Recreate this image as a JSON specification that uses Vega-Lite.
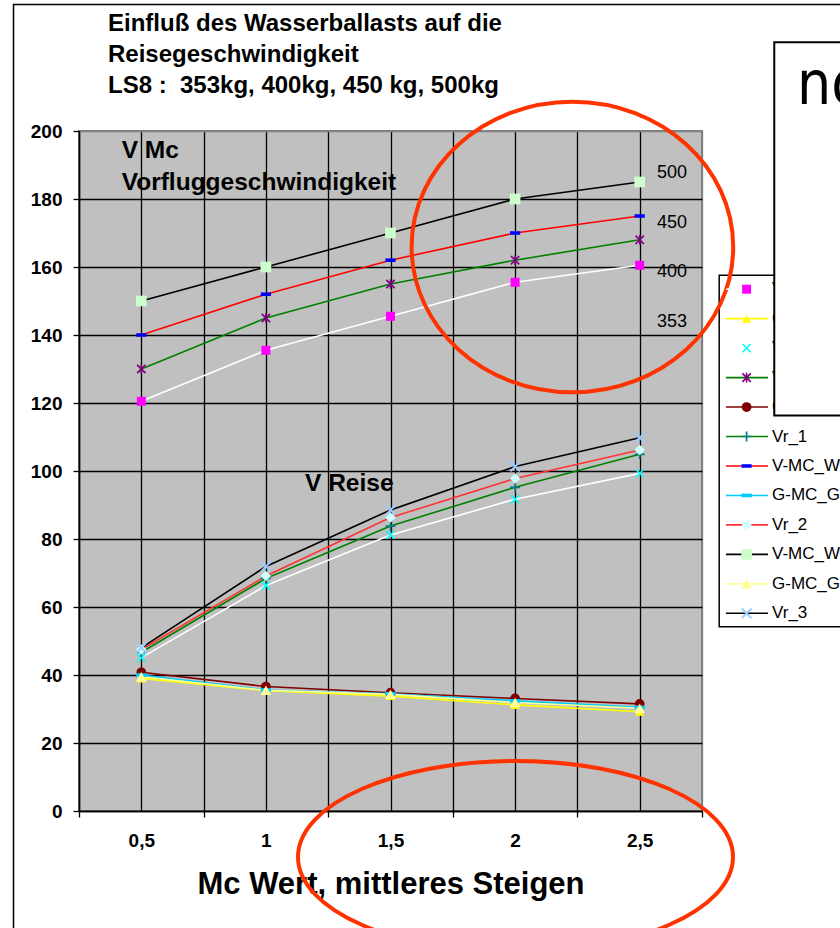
{
"$schema": "https://vega.github.io/schema/vega-lite/v6.json",
"width": 623, "height": 680,
"autosize": "none",
"padding": {"left": 79, "top": 131, "right": 138, "bottom": 117},
"background": "white",
"config": {"view": {"fill": "#C0C0C0", "stroke": "#808080", "strokeWidth": 2}, "legend": {"disable": true}, "font": "Liberation Sans"},
"title": {"text": ["Einfluß des Wasserballasts auf die", "Reisegeschwindigkeit", "LS8 :\u00a0 353kg, 400kg, 450 kg, 500kg"], "anchor": "start", "frame": "group", "font": "Liberation Sans", "fontSize": 24, "fontWeight": "bold", "color": "black", "lineHeight": 31.3, "dx": 29, "offset": -94.5},
"datasets": {
"pts": [
{"s":"V-MC_W0","mc":0.5,"v":120.5},{"s":"V-MC_W0","mc":1,"v":135.5},{"s":"V-MC_W0","mc":1.5,"v":145.5},{"s":"V-MC_W0","mc":2,"v":155.5},{"s":"V-MC_W0","mc":2.5,"v":160.5},
{"s":"G-MC_G0","mc":0.5,"v":39},{"s":"G-MC_G0","mc":1,"v":35.4},{"s":"G-MC_G0","mc":1.5,"v":33.8},{"s":"G-MC_G0","mc":2,"v":31.2},{"s":"G-MC_G0","mc":2.5,"v":29.2},
{"s":"Vr_0","mc":0.5,"v":45.1},{"s":"Vr_0","mc":1,"v":66.3},{"s":"Vr_0","mc":1.5,"v":81.2},{"s":"Vr_0","mc":2,"v":91.7},{"s":"Vr_0","mc":2.5,"v":99.3},
{"s":"V-MC_W1","mc":0.5,"v":130},{"s":"V-MC_W1","mc":1,"v":145},{"s":"V-MC_W1","mc":1.5,"v":155},{"s":"V-MC_W1","mc":2,"v":162},{"s":"V-MC_W1","mc":2.5,"v":168},
{"s":"G-MC_G1","mc":0.5,"v":40.8},{"s":"G-MC_G1","mc":1,"v":36.6},{"s":"G-MC_G1","mc":1.5,"v":34.8},{"s":"G-MC_G1","mc":2,"v":33.1},{"s":"G-MC_G1","mc":2.5,"v":31.5},
{"s":"Vr_1","mc":0.5,"v":46.7},{"s":"Vr_1","mc":1,"v":68.4},{"s":"Vr_1","mc":1.5,"v":83.8},{"s":"Vr_1","mc":2,"v":95.2},{"s":"Vr_1","mc":2.5,"v":104.9},
{"s":"V-MC_W2","mc":0.5,"v":140},{"s":"V-MC_W2","mc":1,"v":152},{"s":"V-MC_W2","mc":1.5,"v":162},{"s":"V-MC_W2","mc":2,"v":170},{"s":"V-MC_W2","mc":2.5,"v":175},
{"s":"G-MC_G2","mc":0.5,"v":40},{"s":"G-MC_G2","mc":1,"v":35.6},{"s":"G-MC_G2","mc":1.5,"v":34.5},{"s":"G-MC_G2","mc":2,"v":32.4},{"s":"G-MC_G2","mc":2.5,"v":30.5},
{"s":"Vr_2","mc":0.5,"v":47.5},{"s":"Vr_2","mc":1,"v":69.1},{"s":"Vr_2","mc":1.5,"v":86.3},{"s":"Vr_2","mc":2,"v":97.8},{"s":"Vr_2","mc":2.5,"v":106.2},
{"s":"V-MC_W3","mc":0.5,"v":150},{"s":"V-MC_W3","mc":1,"v":160},{"s":"V-MC_W3","mc":1.5,"v":170},{"s":"V-MC_W3","mc":2,"v":180},{"s":"V-MC_W3","mc":2.5,"v":185},
{"s":"G-MC_G3","mc":0.5,"v":39.5},{"s":"G-MC_G3","mc":1,"v":35.5},{"s":"G-MC_G3","mc":1.5,"v":34.3},{"s":"G-MC_G3","mc":2,"v":31.9},{"s":"G-MC_G3","mc":2.5,"v":30.2},
{"s":"Vr_3","mc":0.5,"v":48},{"s":"Vr_3","mc":1,"v":71.9},{"s":"Vr_3","mc":1.5,"v":88.5},{"s":"Vr_3","mc":2,"v":101.3},{"s":"Vr_3","mc":2.5,"v":109.8}
],
"names": [{"s":"V-MC_W0"},{"s":"G-MC_G0"},{"s":"Vr_0"},{"s":"V-MC_W1"},{"s":"G-MC_G1"},{"s":"Vr_1"},{"s":"V-MC_W2"},{"s":"G-MC_G2"},{"s":"Vr_2"},{"s":"V-MC_W3"},{"s":"G-MC_G3"},{"s":"Vr_3"}]
},
"layer": [
{
"layer": [
{"data": {"name": "pts"}, "mark": {"type": "line", "strokeWidth": 1.6},
 "encoding": {
  "x": {"field": "mc", "type": "quantitative", "scale": {"domain": [0.25, 2.75], "nice": false, "zero": false},
   "axis": {"values": [0.25,0.5,0.75,1,1.25,1.5,1.75,2,2.25,2.5,2.75],
    "labelExpr": "round(datum.value*4) % 2 == 0 ? replace(format(datum.value, '~g'), '.', ',') : ''",
    "labelFont": "Liberation Sans", "labelFontSize": 19, "labelFontWeight": "bold", "labelColor": "black", "labelPadding": 14.6, "labelOverlap": false, "labelFlush": false,
    "tickSize": 6, "tickColor": "black", "tickWidth": 1.3, "tickOpacity": {"condition": {"test": "round(datum.value*4) % 2 == 1", "value": 1}, "value": 0},
    "domainColor": "black", "domainWidth": 1.5,
    "grid": true, "gridColor": {"condition": {"test": "datum.value > 2.7", "value": "#808080"}, "value": "black"}, "gridWidth": 1.3, "gridOpacity": 1,
    "title": "Mc Wert, mittleres Steigen", "titleFont": "Liberation Sans", "titleFontSize": 31, "titleFontWeight": "bold", "titleColor": "black", "titlePadding": 19}},
  "y": {"field": "v", "type": "quantitative", "scale": {"domain": [0, 200], "nice": false, "zero": false},
   "axis": {"values": [0,20,40,60,80,100,120,140,160,180,200],
    "labelFont": "Liberation Sans", "labelFontSize": 19, "labelFontWeight": "bold", "labelColor": "black", "labelPadding": 11, "labelFlush": false, "labelOverlap": false,
    "tickSize": 6, "tickColor": "black", "tickWidth": 1.3,
    "domainColor": "black", "domainWidth": 1.5,
    "grid": true, "gridColor": {"condition": {"test": "datum.value >= 200", "value": "#808080"}, "value": "black"}, "gridWidth": 1.3, "gridOpacity": 1,
    "title": null}},
  "stroke": {"field": "s", "type": "nominal", "legend": null,
   "scale": {"domain": ["V-MC_W0","G-MC_G0","Vr_0","V-MC_W1","G-MC_G1","Vr_1","V-MC_W2","G-MC_G2","Vr_2","V-MC_W3","G-MC_G3","Vr_3"],
    "range": ["#FFFFFF","#FFFF00","#FFFFFF","#008000","#800000","#008000","#FF0000","#00CCFF","#FF3333","#000000","#FFFF99","#000000"]}}
 }},
{"data": {"values": [{}]}, "mark": {"type": "rect", "fill": "transparent", "stroke": "black", "strokeWidth": 1.5},
 "encoding": {"x": {"datum": -0.0128, "type": "quantitative", "scale": {"domain": [0.25, 2.75], "nice": false, "zero": false}}, "x2": {"datum": 3.8},
  "y": {"datum": 237.2, "type": "quantitative", "scale": {"domain": [0, 200], "nice": false, "zero": false}}, "y2": {"datum": -60}}},
{"data": {"values": [{}]}, "mark": {"type": "rect", "fill": "white", "stroke": "black", "strokeWidth": 1.5},
 "encoding": {"x": {"datum": 2.819, "type": "quantitative", "scale": {"domain": [0.25, 2.75], "nice": false, "zero": false}}, "x2": {"datum": 3.8},
  "y": {"datum": 157.6, "type": "quantitative", "scale": {"domain": [0, 200], "nice": false, "zero": false}}, "y2": {"datum": 54.2}}},
{"data": {"name": "pts"}, "mark": {"type": "point", "filled": true, "opacity": 1, "strokeWidth": 0},
 "encoding": {
  "x": {"field": "mc", "type": "quantitative", "scale": {"domain": [0.25, 2.75], "nice": false, "zero": false}},
  "y": {"field": "v", "type": "quantitative", "scale": {"domain": [0, 200], "nice": false, "zero": false}},
  "fill": {"field": "s", "type": "nominal", "legend": null,
   "scale": {"domain": ["V-MC_W0","G-MC_G0","Vr_0","V-MC_W1","G-MC_G1","Vr_1","V-MC_W2","G-MC_G2","Vr_2","V-MC_W3","G-MC_G3","Vr_3"],
    "range": ["#FF00FF","#FFFF00","#00FFFF","#800080","#800000","#008080","#0000FF","#00CCFF","#CCFFFF","#CCFFCC","#FFFF99","#99CCFF"]}},
  "shape": {"field": "s", "type": "nominal", "legend": null,
   "scale": {"domain": ["V-MC_W0","G-MC_G0","Vr_0","V-MC_W1","G-MC_G1","Vr_1","V-MC_W2","G-MC_G2","Vr_2","V-MC_W3","G-MC_G3","Vr_3"],
    "range": ["square","triangle-up","M -1 -0.75 L -0.75 -1 L 1 0.75 L 0.75 1 Z M -1 0.75 L 0.75 -1 L 1 -0.75 L -0.75 1 Z","M -1 -0.75 L -0.75 -1 L 1 0.75 L 0.75 1 Z M -1 0.75 L 0.75 -1 L 1 -0.75 L -0.75 1 Z M -0.17 -1 H 0.17 V 1 H -0.17 Z","circle","M -1 -0.17 H 1 V 0.17 H -1 Z M -0.17 -1 H 0.17 V 1 H -0.17 Z","M -1 -0.35 H 1 V 0.35 H -1 Z","M -1 -0.35 H 1 V 0.35 H -1 Z","diamond","square","triangle-up","M -1 -0.75 L -0.75 -1 L 1 0.75 L 0.75 1 Z M -1 0.75 L 0.75 -1 L 1 -0.75 L -0.75 1 Z"]}},
  "size": {"field": "s", "type": "nominal", "legend": null,
   "scale": {"domain": ["V-MC_W0","G-MC_G0","Vr_0","V-MC_W1","G-MC_G1","Vr_1","V-MC_W2","G-MC_G2","Vr_2","V-MC_W3","G-MC_G3","Vr_3"],
    "range": [81,121,64,64,81,64,81,121,110,81,121,64]}}
 }},
{"data": {"values": [{}]}, "mark": {"type": "text", "text": "V Mc", "font": "Liberation Sans", "fontSize": 24.5, "fontWeight": "bold", "color": "black", "align": "left", "baseline": "alphabetic"},
 "encoding": {"x": {"datum": 0.4213, "type": "quantitative", "scale": {"domain": [0.25, 2.75], "nice": false, "zero": false}},
  "y": {"datum": 192, "type": "quantitative", "scale": {"domain": [0, 200], "nice": false, "zero": false}}}},
{"data": {"values": [{}]}, "mark": {"type": "text", "text": "Vorfluggeschwindigkeit", "font": "Liberation Sans", "fontSize": 24.5, "fontWeight": "bold", "color": "black", "align": "left", "baseline": "alphabetic"},
 "encoding": {"x": {"datum": 0.4213, "type": "quantitative", "scale": {"domain": [0.25, 2.75], "nice": false, "zero": false}},
  "y": {"datum": 182.6, "type": "quantitative", "scale": {"domain": [0, 200], "nice": false, "zero": false}}}},
{"data": {"values": [{}]}, "mark": {"type": "text", "text": "V Reise", "font": "Liberation Sans", "fontSize": 24.5, "fontWeight": "bold", "color": "black", "align": "left", "baseline": "alphabetic"},
 "encoding": {"x": {"datum": 1.157, "type": "quantitative", "scale": {"domain": [0.25, 2.75], "nice": false, "zero": false}},
  "y": {"datum": 94.2, "type": "quantitative", "scale": {"domain": [0, 200], "nice": false, "zero": false}}}},
{"data": {"values": [{}]}, "mark": {"type": "text", "text": "500", "font": "Liberation Sans", "fontSize": 18, "color": "black", "align": "left", "baseline": "middle"},
 "encoding": {"x": {"datum": 2.569, "type": "quantitative", "scale": {"domain": [0.25, 2.75], "nice": false, "zero": false}},
  "y": {"datum": 187.6, "type": "quantitative", "scale": {"domain": [0, 200], "nice": false, "zero": false}}}},
{"data": {"values": [{}]}, "mark": {"type": "text", "text": "450", "font": "Liberation Sans", "fontSize": 18, "color": "black", "align": "left", "baseline": "middle"},
 "encoding": {"x": {"datum": 2.569, "type": "quantitative", "scale": {"domain": [0.25, 2.75], "nice": false, "zero": false}},
  "y": {"datum": 172.9, "type": "quantitative", "scale": {"domain": [0, 200], "nice": false, "zero": false}}}},
{"data": {"values": [{}]}, "mark": {"type": "text", "text": "400", "font": "Liberation Sans", "fontSize": 18, "color": "black", "align": "left", "baseline": "middle"},
 "encoding": {"x": {"datum": 2.569, "type": "quantitative", "scale": {"domain": [0.25, 2.75], "nice": false, "zero": false}},
  "y": {"datum": 158.5, "type": "quantitative", "scale": {"domain": [0, 200], "nice": false, "zero": false}}}},
{"data": {"values": [{}]}, "mark": {"type": "text", "text": "353", "font": "Liberation Sans", "fontSize": 18, "color": "black", "align": "left", "baseline": "middle"},
 "encoding": {"x": {"datum": 2.569, "type": "quantitative", "scale": {"domain": [0.25, 2.75], "nice": false, "zero": false}},
  "y": {"datum": 143.8, "type": "quantitative", "scale": {"domain": [0, 200], "nice": false, "zero": false}}}},
{"data": {"values": [{}]}, "mark": {"type": "point", "shape": "M -1.1067 0 A 1.1067 1 0 1 1 1.1067 0 A 1.1067 1 0 1 1 -1.1067 0 Z", "size": 84448, "filled": false, "fill": "transparent", "stroke": "#FF3300", "strokeWidth": 4, "opacity": 1},
 "encoding": {"x": {"datum": 2.230, "type": "quantitative", "scale": {"domain": [0.25, 2.75], "nice": false, "zero": false}},
  "y": {"datum": 165.9, "type": "quantitative", "scale": {"domain": [0, 200], "nice": false, "zero": false}}}},
{"data": {"values": [{}]}, "mark": {"type": "point", "shape": "M -2.2656 0 A 2.2656 1 0 1 1 2.2656 0 A 2.2656 1 0 1 1 -2.2656 0 Z", "size": 36864, "filled": false, "fill": "transparent", "stroke": "#FF3300", "strokeWidth": 4, "opacity": 1},
 "encoding": {"x": {"datum": 2.0016, "type": "quantitative", "scale": {"domain": [0.25, 2.75], "nice": false, "zero": false}},
  "y": {"datum": -13.5, "type": "quantitative", "scale": {"domain": [0, 200], "nice": false, "zero": false}}}}
]
},
{
"data": {"name": "names"},
"encoding": {"y": {"field": "s", "type": "nominal", "axis": null,
  "scale": {"type": "point", "domain": ["V-MC_W0","G-MC_G0","Vr_0","V-MC_W1","G-MC_G1","Vr_1","V-MC_W2","G-MC_G2","Vr_2","V-MC_W3","G-MC_G3","Vr_3"], "range": [158.2, 482.3], "padding": 0}}},
"layer": [
{"mark": {"type": "rule", "strokeWidth": 1.6},
 "encoding": {"x": {"datum": 2.846, "type": "quantitative", "scale": {"domain": [0.25, 2.75], "nice": false, "zero": false}}, "x2": {"datum": 3.015},
  "stroke": {"field": "s", "type": "nominal", "legend": null,
   "scale": {"domain": ["V-MC_W0","G-MC_G0","Vr_0","V-MC_W1","G-MC_G1","Vr_1","V-MC_W2","G-MC_G2","Vr_2","V-MC_W3","G-MC_G3","Vr_3"],
    "range": ["#FFFFFF","#FFFF00","#FFFFFF","#008000","#800000","#008000","#FF0000","#00CCFF","#FF3333","#000000","#FFFF99","#000000"]}}}},
{"mark": {"type": "point", "filled": true, "opacity": 1, "strokeWidth": 0},
 "encoding": {"x": {"datum": 2.929, "type": "quantitative", "scale": {"domain": [0.25, 2.75], "nice": false, "zero": false}},
  "fill": {"field": "s", "type": "nominal", "legend": null,
   "scale": {"domain": ["V-MC_W0","G-MC_G0","Vr_0","V-MC_W1","G-MC_G1","Vr_1","V-MC_W2","G-MC_G2","Vr_2","V-MC_W3","G-MC_G3","Vr_3"],
    "range": ["#FF00FF","#FFFF00","#00FFFF","#800080","#800000","#008080","#0000FF","#00CCFF","#CCFFFF","#CCFFCC","#FFFF99","#99CCFF"]}},
  "shape": {"field": "s", "type": "nominal", "legend": null,
   "scale": {"domain": ["V-MC_W0","G-MC_G0","Vr_0","V-MC_W1","G-MC_G1","Vr_1","V-MC_W2","G-MC_G2","Vr_2","V-MC_W3","G-MC_G3","Vr_3"],
    "range": ["square","triangle-up","M -1 -0.75 L -0.75 -1 L 1 0.75 L 0.75 1 Z M -1 0.75 L 0.75 -1 L 1 -0.75 L -0.75 1 Z","M -1 -0.75 L -0.75 -1 L 1 0.75 L 0.75 1 Z M -1 0.75 L 0.75 -1 L 1 -0.75 L -0.75 1 Z M -0.17 -1 H 0.17 V 1 H -0.17 Z","circle","M -1 -0.17 H 1 V 0.17 H -1 Z M -0.17 -1 H 0.17 V 1 H -0.17 Z","M -1 -0.35 H 1 V 0.35 H -1 Z","M -1 -0.35 H 1 V 0.35 H -1 Z","diamond","square","triangle-up","M -1 -0.75 L -0.75 -1 L 1 0.75 L 0.75 1 Z M -1 0.75 L 0.75 -1 L 1 -0.75 L -0.75 1 Z"]}},
  "size": {"field": "s", "type": "nominal", "legend": null,
   "scale": {"domain": ["V-MC_W0","G-MC_G0","Vr_0","V-MC_W1","G-MC_G1","Vr_1","V-MC_W2","G-MC_G2","Vr_2","V-MC_W3","G-MC_G3","Vr_3"],
    "range": [81,121,64,64,81,64,81,121,110,81,121,64]}}}},
{"mark": {"type": "text", "font": "Liberation Sans", "fontSize": 17, "color": "black", "align": "left", "baseline": "middle"},
 "encoding": {"x": {"datum": 3.031, "type": "quantitative", "scale": {"domain": [0.25, 2.75], "nice": false, "zero": false}},
  "text": {"field": "s", "type": "nominal"}}}
]
},
{
"data": {"values": [{}]},
"layer": [
{"mark": {"type": "rect", "fill": "white", "stroke": "black", "strokeWidth": 2},
 "encoding": {"x": {"datum": 3.040, "type": "quantitative", "scale": {"domain": [0.25, 2.75], "nice": false, "zero": false}}, "x2": {"datum": 3.8},
  "y": {"datum": 226.1, "type": "quantitative", "scale": {"domain": [0, 200], "nice": false, "zero": false}, "axis": null}, "y2": {"datum": 116.3}}},
{"mark": {"type": "text", "text": "no", "font": "Liberation Sans Narrow, DejaVu Sans Condensed, sans-serif", "fontSize": 60, "color": "black", "align": "left", "baseline": "alphabetic"},
 "encoding": {"x": {"datum": 3.131, "type": "quantitative", "scale": {"domain": [0.25, 2.75], "nice": false, "zero": false}},
  "y": {"datum": 207.9, "type": "quantitative", "scale": {"domain": [0, 200], "nice": false, "zero": false}, "axis": null}}}
]
}
],
"resolve": {"scale": {"y": "independent"}}
}
